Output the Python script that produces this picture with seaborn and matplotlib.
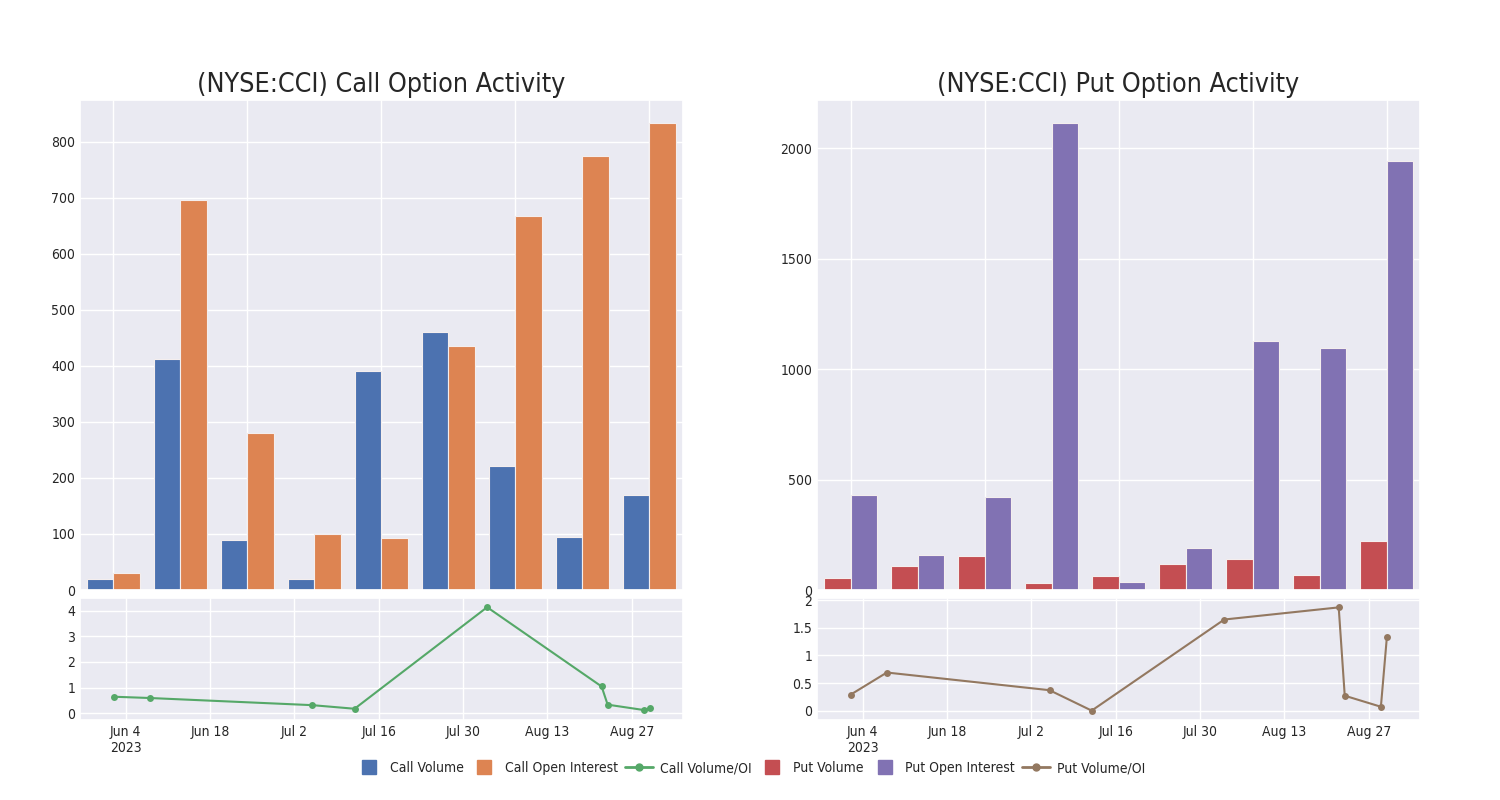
import pandas as pd
import seaborn as sns
import matplotlib.pyplot as plt
from matplotlib.lines import Line2D
from matplotlib.ticker import FuncFormatter, MultipleLocator

# bar data (9 expiries)
groups = list(range(9))
call_volume = [19, 413, 90, 19, 391, 460, 222, 95, 170]
call_oi = [30, 696, 281, 100, 93, 436, 667, 774, 833]
put_volume = [55, 109, 155, 30, 62, 117, 141, 66, 220]
put_oi = [429, 158, 420, 2114, 36, 189, 1130, 1097, 1943]

# volume / OI lines
ratio_dates = ['2023-06-02', '2023-06-08', '2023-07-05', '2023-07-12', '2023-08-03',
               '2023-08-22', '2023-08-23', '2023-08-29', '2023-08-30']
call_ratio = [0.64, 0.59, 0.31, 0.17, 4.14, 1.04, 0.33, 0.12, 0.19]
put_ratio = [0.29, 0.69, 0.37, 0.0, 1.65, 1.87, 0.27, 0.07, 1.34]

tick_dates = ['2023-06-04', '2023-06-18', '2023-07-02', '2023-07-16', '2023-07-30', '2023-08-13', '2023-08-27']
tick_labels = ['Jun 4\n2023', 'Jun 18', 'Jul 2', 'Jul 16', 'Jul 30', 'Aug 13', 'Aug 27']

sns.set_theme(style='darkgrid', palette='deep')
plt.rcParams['font.family'] = ['DejaVu Sans']
plt.rcParams['font.stretch'] = 'condensed'
pal = sns.color_palette('deep')

fig = plt.figure(figsize=(15, 8), dpi=100)


def draw_side(left, title, vol, oi, ratio, names, colors, line_color, bar_step):
    ax_bar = fig.add_axes([left, 0.2625, 0.402, 0.6125])
    ax_line = fig.add_axes([left, 0.1, 0.402, 0.1525])

    df = pd.DataFrame({'group': groups * 2,
                       'value': vol + oi,
                       'kind': [names[0]] * 9 + [names[1]] * 9})
    sns.barplot(data=df, x='group', y='value', hue='kind', palette=colors, saturation=1,
                ax=ax_bar, legend=False, edgecolor='#f4eeee', linewidth=0.8)
    ax_bar.set_xticks([0, 2, 4, 6, 8])
    ax_bar.set_xticklabels([])
    ax_bar.xaxis.grid(True)
    ax_bar.yaxis.set_major_locator(MultipleLocator(bar_step))
    ax_bar.tick_params(length=0, labelsize=10)
    ax_bar.set_xlabel('')
    ax_bar.set_ylabel('')
    ax_bar.set_xlim(-0.5, 8.5)
    ax_bar.set_title(title, fontsize=19.3)

    ldf = pd.DataFrame({'date': pd.to_datetime(ratio_dates), 'ratio': ratio})
    sns.lineplot(data=ldf, x='date', y='ratio', ax=ax_line, color=line_color,
                 marker='o', markersize=5, markeredgewidth=0, linewidth=1.5)
    ax_line.set_xlim(pd.Timestamp('2023-05-27 10:00'), pd.Timestamp('2023-09-04 12:00'))
    ax_line.set_xticks(pd.to_datetime(tick_dates))
    ax_line.set_xticklabels(tick_labels)
    ax_line.yaxis.set_major_formatter(FuncFormatter(lambda v, p: '{:g}'.format(v)))
    ax_line.tick_params(length=0, labelsize=10)
    ax_line.set_xlabel('')
    ax_line.set_ylabel('')
    return ax_bar, ax_line


cb, cl = draw_side(0.0533, '(NYSE:CCI) Call Option Activity', call_volume, call_oi, call_ratio,
                   ['Call Volume', 'Call Open Interest'], [pal[0], pal[1]], pal[2], 100)
cl.set_ylim(-0.27, 4.5)
cl.set_yticks([0, 1, 2, 3, 4])

pb, plw = draw_side(0.5447, '(NYSE:CCI) Put Option Activity', put_volume, put_oi, put_ratio,
                    ['Put Volume', 'Put Open Interest'], [pal[3], pal[4]], pal[5], 500)
plw.set_ylim(-0.17, 2.04)
plw.set_yticks([0, 0.5, 1, 1.5, 2])

handles = [
    Line2D([], [], marker='s', ls='', color=pal[0], markersize=10),
    Line2D([], [], marker='s', ls='', color=pal[1], markersize=10),
    Line2D([], [], marker='o', color=pal[2], markersize=5, lw=2),
    Line2D([], [], marker='s', ls='', color=pal[3], markersize=10),
    Line2D([], [], marker='s', ls='', color=pal[4], markersize=10),
    Line2D([], [], marker='o', color=pal[5], markersize=5, lw=2),
]
labels = ['Call Volume', 'Call Open Interest', 'Call Volume/OI',
          'Put Volume', 'Put Open Interest', 'Put Volume/OI']
fig.legend(handles, labels, loc='center', bbox_to_anchor=(0.5, 0.04), ncol=6,
           frameon=False, fontsize=10, handletextpad=0.5, columnspacing=0.5)

fig.savefig('out.png', dpi=100)
